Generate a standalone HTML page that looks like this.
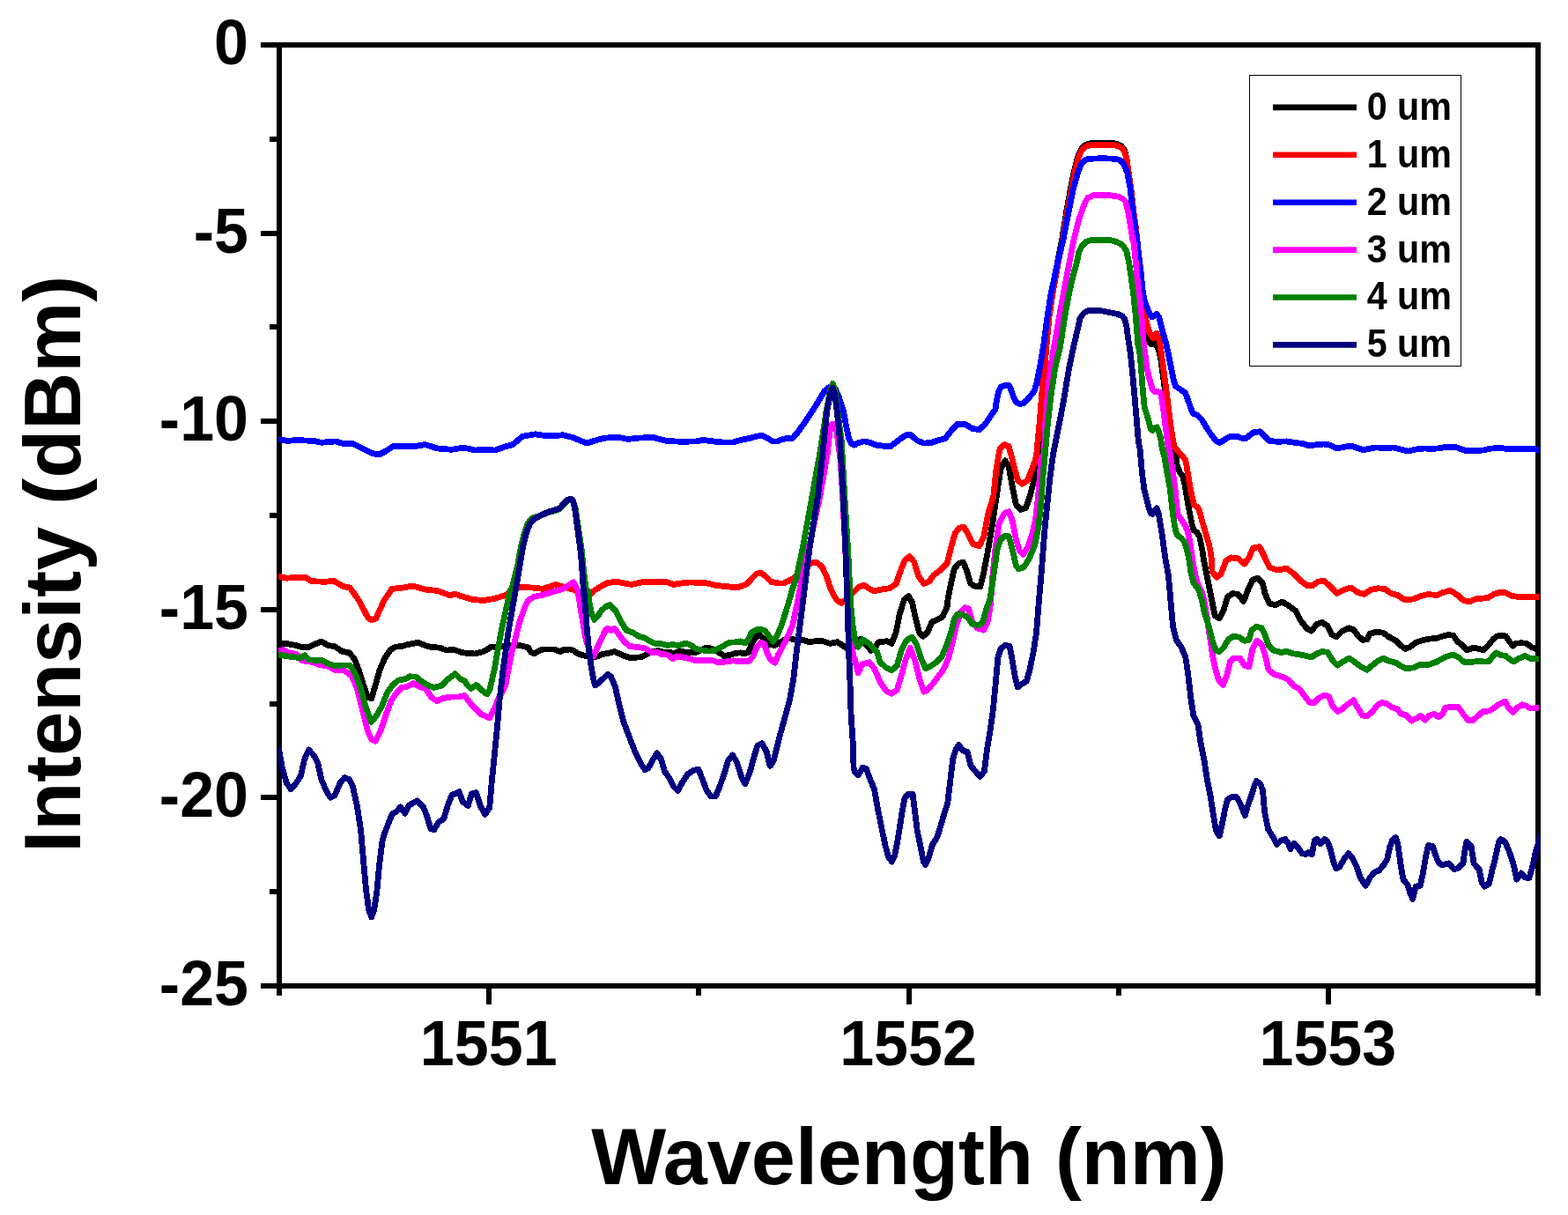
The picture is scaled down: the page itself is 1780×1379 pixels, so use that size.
<!DOCTYPE html>
<html lang="en">
<head>
<meta charset="utf-8">
<title>Intensity vs Wavelength</title>
<style>
html,body{margin:0;padding:0;background:#fff;}
body{width:1780px;height:1379px;overflow:hidden;}
svg{display:block;}
text{font-family:"Liberation Sans",Arial,Helvetica,sans-serif;font-weight:bold;fill:#000;}
.tick{font-size:70px;}
.axl{font-size:90px;}
.leg{font-size:43px;}
.c{fill:none;stroke-width:6.8;stroke-linejoin:round;stroke-linecap:butt;}
.ax{stroke:#000;stroke-width:6;fill:none;}
</style>
</head>
<body>
<svg width="1780" height="1379" viewBox="0 0 1780 1379">
<rect x="0" y="0" width="1780" height="1379" fill="#fff"/>
<defs><clipPath id="plot"><rect x="316.2" y="51.0" width="1430.8999999999999" height="1068.0"/></clipPath></defs>

<rect class="ax" shape-rendering="crispEdges" x="317.0" y="51.0" width="1429.0" height="1068.0"/>
<g stroke="#000" stroke-width="6" shape-rendering="crispEdges">
<line x1="296" y1="51.0" x2="317.0" y2="51.0"/>
<line x1="306" y1="157.8" x2="317.0" y2="157.8"/>
<line x1="296" y1="264.6" x2="317.0" y2="264.6"/>
<line x1="306" y1="371.4" x2="317.0" y2="371.4"/>
<line x1="296" y1="478.2" x2="317.0" y2="478.2"/>
<line x1="306" y1="585.0" x2="317.0" y2="585.0"/>
<line x1="296" y1="691.8" x2="317.0" y2="691.8"/>
<line x1="306" y1="798.6" x2="317.0" y2="798.6"/>
<line x1="296" y1="905.4" x2="317.0" y2="905.4"/>
<line x1="306" y1="1012.2" x2="317.0" y2="1012.2"/>
<line x1="296" y1="1119.0" x2="317.0" y2="1119.0"/>
<line x1="317.0" y1="1119.0" x2="317.0" y2="1129.8"/>
<line x1="555.2" y1="1119.0" x2="555.2" y2="1140.2"/>
<line x1="793.3" y1="1119.0" x2="793.3" y2="1129.8"/>
<line x1="1031.5" y1="1119.0" x2="1031.5" y2="1140.2"/>
<line x1="1269.7" y1="1119.0" x2="1269.7" y2="1129.8"/>
<line x1="1507.8" y1="1119.0" x2="1507.8" y2="1140.2"/>
<line x1="1746.0" y1="1119.0" x2="1746.0" y2="1129.8"/>
</g>
<text class="tick" transform="translate(282,73.0) scale(1,1.025)" text-anchor="end">0</text>
<text class="tick" transform="translate(282,286.6) scale(1,1.025)" text-anchor="end">-5</text>
<text class="tick" transform="translate(282,500.2) scale(1,1.025)" text-anchor="end">-10</text>
<text class="tick" transform="translate(282,713.8) scale(1,1.025)" text-anchor="end">-15</text>
<text class="tick" transform="translate(282,927.4) scale(1,1.025)" text-anchor="end">-20</text>
<text class="tick" transform="translate(282,1141.0) scale(1,1.025)" text-anchor="end">-25</text>
<text class="tick" transform="translate(554.7,1209.4) scale(1,1.025)" text-anchor="middle">1551</text>
<text class="tick" transform="translate(1031.0,1209.4) scale(1,1.025)" text-anchor="middle">1552</text>
<text class="tick" transform="translate(1507.3,1209.4) scale(1,1.025)" text-anchor="middle">1553</text>
<text class="axl" x="1032" y="1343.6" text-anchor="middle">Wavelength (nm)</text>
<text class="axl" transform="translate(91,640.3) rotate(-90)" text-anchor="middle">Intensity (dBm)</text>
<g clip-path="url(#plot)" shape-rendering="crispEdges">
<polyline class="c" stroke="#000000" points="314.1,730.0 316.1,730.0 326.2,730.6 334.4,732.2 342.5,734.3 350.6,734.3 358.7,730.6 364.8,728.2 372.9,732.6 380.1,733.7 388.2,739.3 396.3,740.8 402.4,747.9 407.5,761.1 412.5,777.3 417.6,791.5 421.7,792.9 425.7,779.3 430.8,761.1 436.9,746.9 443.0,737.7 449.1,734.1 456.2,733.7 462.3,731.6 468.4,730.6 474.5,729.0 481.6,732.2 488.7,734.3 498.8,735.1 507.0,738.1 515.1,737.3 523.2,740.2 530.0,741.5 539.0,742.0 548.0,739.7 553.4,737.0 557.9,733.9 561.5,734.3 570.5,733.4 580.4,732.1 588.5,732.1 593.0,733.4 599.3,734.8 602.8,740.2 606.4,742.0 610.9,739.3 616.3,737.0 628.9,737.0 636.1,739.7 639.7,737.5 646.9,737.0 651.4,738.4 655.9,742.0 660.4,743.3 664.9,744.6 672.1,745.5 678.4,745.1 682.9,742.8 690.0,741.5 697.6,739.5 706.7,743.6 714.8,746.6 727.2,745.8 733.5,743.1 738.0,740.9 743.4,739.1 747.9,738.7 752.4,740.0 760.4,740.4 764.9,741.8 770.3,739.6 778.4,740.0 787.4,740.9 791.9,739.6 796.4,737.3 800.9,735.5 805.4,735.5 809.9,736.9 814.4,739.6 818.9,742.2 821.6,744.5 827.9,743.6 835.1,741.3 840.4,740.9 845.8,741.8 849.4,740.4 853.0,731.5 857.5,723.4 862.0,720.7 865.6,723.4 869.2,727.9 872.8,731.5 879.3,732.4 885.4,729.3 891.5,725.3 897.6,724.9 903.7,726.3 911.8,726.3 917.9,728.7 926.0,727.7 934.1,727.7 942.2,730.4 950.4,728.7 956.4,732.4 962.5,736.4 968.6,735.4 976.8,725.3 984.9,733.4 988.9,738.5 993.0,735.4 997.1,728.9 1007.1,727.7 1012.2,730.4 1017.3,717.2 1021.3,696.9 1026.4,680.6 1031.5,676.5 1035.5,683.7 1039.6,702.9 1043.7,718.2 1047.7,722.2 1052.8,718.2 1057.9,706.0 1064.0,703.4 1070.1,699.9 1075.1,688.7 1076.1,680.0 1079.2,664.0 1083.2,645.7 1088.3,639.6 1093.4,638.0 1097.5,647.7 1101.5,661.9 1105.6,665.0 1112.7,666.0 1116.8,649.7 1121.8,623.4 1126.9,592.9 1132.0,558.4 1136.0,532.0 1141.1,522.8 1145.2,529.9 1149.2,552.3 1153.3,572.6 1158.4,578.3 1164.5,576.6 1169.5,562.4 1174.6,542.1 1178.4,514.0 1180.8,479.9 1183.3,444.0 1183.8,435.0 1185.9,417.0 1187.3,394.0 1190.3,359.9 1194.3,333.0 1200.6,297.0 1205.1,274.0 1205.3,274.0 1210.7,239.9 1215.6,213.0 1219.2,195.0 1221.4,186.0 1224.1,177.0 1226.7,170.7 1229.4,166.6 1233.0,163.9 1239.3,162.6 1250.9,162.2 1264.4,162.6 1269.8,163.9 1273.4,166.0 1276.3,170.2 1278.3,177.0 1279.9,186.0 1281.0,195.0 1283.7,213.0 1286.7,239.9 1289.4,257.9 1291.0,274.0 1291.4,279.0 1293.8,297.0 1295.9,315.0 1296.8,333.0 1297.5,349.1 1298.6,359.9 1300.0,368.9 1301.5,377.0 1303.1,383.3 1304.9,388.7 1307.2,391.0 1309.9,389.2 1311.7,390.5 1312.3,390.9 1314.1,394.0 1316.3,400.8 1317.8,408.0 1320.2,426.0 1321.5,435.0 1322.6,444.0 1324.9,462.0 1327.1,479.9 1329.4,493.4 1332.1,506.9 1334.0,514.0 1334.5,510.0 1336.1,528.0 1339.3,536.1 1342.8,540.6 1345.1,550.5 1347.3,564.0 1349.6,577.5 1351.4,586.4 1353.2,595.4 1355.0,601.7 1359.0,604.4 1361.7,608.9 1363.5,617.9 1365.3,626.9 1366.2,634.0 1368.0,643.0 1372.1,663.4 1376.1,683.7 1379.2,698.9 1384.3,701.9 1389.3,691.8 1393.4,677.6 1399.5,673.5 1405.6,674.5 1411.7,682.6 1416.8,669.4 1421.8,658.3 1427.9,656.2 1433.0,661.3 1436.0,673.5 1441.1,685.1 1448.2,686.7 1455.3,683.0 1462.4,687.1 1470.6,693.2 1476.6,704.4 1483.8,713.5 1488.8,716.1 1494.9,708.4 1501.0,706.4 1507.1,710.5 1512.2,720.6 1517.3,722.6 1523.4,716.5 1531.5,712.9 1536.5,714.5 1541.6,721.6 1546.7,726.3 1551.8,725.7 1554.8,719.6 1561.9,717.2 1570.1,718.2 1576.1,722.6 1584.3,726.7 1590.4,732.8 1595.4,736.4 1600.5,734.4 1606.6,729.7 1614.7,726.7 1622.8,725.1 1631.0,724.3 1639.1,721.6 1644.1,720.4 1649.9,721.4 1654.3,727.9 1660.1,732.2 1665.1,738.0 1673.1,735.1 1678.9,736.6 1684.0,737.6 1689.1,733.0 1694.9,725.7 1699.2,722.1 1703.6,721.1 1709.4,722.1 1713.7,728.6 1717.4,733.0 1721.0,730.1 1726.8,729.8 1732.6,730.1 1738.4,734.4 1744.2,736.6 1748.5,737.0"/>
<polyline class="c" stroke="#ff0000" points="314.1,653.6 316.1,654.2 326.2,656.2 336.4,655.2 346.5,655.2 353.7,659.7 368.9,660.3 379.0,659.3 389.2,665.4 397.3,667.0 407.5,681.6 417.6,700.9 421.7,703.6 426.8,701.9 435.9,681.6 445.0,668.4 458.2,667.0 468.4,665.0 482.6,669.0 496.8,670.5 511.0,675.9 516.1,673.9 523.2,676.5 535.4,680.2 548.6,681.6 561.8,679.2 574.0,675.5 582.1,669.4 590.2,666.4 604.4,667.0 616.6,668.4 630.8,663.4 643.0,667.0 651.1,669.4 659.2,672.5 668.1,676.5 674.2,670.5 682.3,665.4 690.5,661.3 700.6,660.3 708.7,661.9 716.9,663.4 729.0,660.7 741.2,660.9 749.3,660.3 757.5,660.9 764.6,663.4 773.7,661.9 783.9,660.9 792.0,661.3 802.1,661.9 812.3,664.4 822.4,665.4 832.6,666.4 838.7,666.4 846.8,663.4 852.9,657.3 859.0,651.2 864.1,650.2 869.1,654.2 875.2,660.3 883.4,661.9 889.4,661.9 895.5,659.3 901.6,656.2 909.7,648.1 915.8,642.0 921.9,639.0 927.0,638.4 933.1,643.0 938.2,654.2 942.2,666.4 946.3,675.5 950.4,681.6 955.4,684.3 959.5,681.6 968.6,672.5 974.7,666.4 980.8,664.0 986.9,668.4 992.0,670.9 1001.1,669.0 1010.2,667.6 1017.3,662.9 1022.3,647.7 1027.4,635.5 1032.5,631.5 1037.6,637.6 1042.6,653.8 1048.7,662.5 1054.8,659.9 1059.9,652.8 1067.0,647.7 1075.1,639.6 1080.2,619.3 1084.3,605.1 1089.3,599.0 1094.4,598.6 1099.5,607.1 1104.6,617.3 1111.7,619.7 1116.8,609.1 1121.8,582.7 1127.9,562.4 1131.0,532.0 1135.0,509.6 1140.1,504.6 1145.2,506.6 1150.3,525.9 1155.3,545.2 1160.4,549.2 1166.5,545.2 1171.6,532.0 1175.6,521.8 1176.8,514.0 1180.1,479.9 1182.3,453.0 1183.8,435.0 1186.0,417.0 1187.8,394.0 1191.0,359.9 1195.0,333.0 1201.5,297.0 1206.2,274.0 1211.6,239.9 1216.5,213.0 1220.1,195.0 1222.3,186.0 1225.0,177.0 1227.6,171.6 1230.3,168.0 1233.9,165.7 1239.3,164.7 1250.9,164.4 1264.4,164.7 1269.8,166.0 1273.4,168.0 1276.1,171.6 1278.2,177.0 1279.8,186.0 1280.9,195.0 1283.6,213.0 1286.7,239.9 1289.4,257.9 1291.0,274.0 1291.4,279.0 1293.8,297.0 1295.9,315.0 1297.0,333.0 1298.0,350.9 1300.2,359.9 1302.5,368.9 1304.9,377.0 1307.2,382.4 1309.0,384.0 1310.8,380.4 1313.0,378.4 1314.8,382.4 1316.6,388.7 1316.8,390.0 1319.9,412.5 1322.9,435.0 1325.8,457.5 1328.5,479.9 1331.2,497.9 1333.0,506.9 1340.2,515.4 1345.5,521.7 1346.9,528.0 1349.1,541.5 1351.4,555.0 1353.6,565.8 1355.4,573.0 1359.9,575.7 1362.2,582.0 1364.4,590.9 1367.1,599.9 1369.8,608.9 1372.5,617.9 1374.3,626.9 1375.2,634.0 1376.1,649.1 1381.2,655.2 1386.3,651.2 1391.4,637.0 1397.5,632.9 1405.6,633.9 1412.7,640.0 1417.8,632.9 1422.8,621.7 1429.9,620.7 1435.0,630.9 1441.1,644.1 1450.3,647.1 1460.4,645.1 1468.5,651.2 1476.6,659.3 1483.8,664.4 1489.8,665.0 1495.9,660.3 1503.0,659.3 1510.2,665.4 1517.3,673.5 1525.4,669.4 1533.5,667.0 1541.6,672.5 1548.7,674.5 1555.8,669.4 1564.0,667.8 1572.1,668.4 1579.2,673.5 1586.3,675.5 1594.4,680.6 1604.6,680.0 1612.7,676.5 1620.8,674.5 1631.0,675.5 1638.1,672.5 1645.6,670.3 1649.9,672.1 1655.7,676.4 1661.5,681.5 1668.8,682.9 1674.6,680.0 1680.4,679.3 1689.1,678.6 1696.3,674.2 1703.6,672.1 1709.4,672.8 1716.6,676.4 1723.9,677.6 1731.1,677.1 1738.4,677.4 1748.5,677.1"/>
<polyline class="c" stroke="#0000ff" points="314.1,498.5 316.1,498.5 326.2,500.5 336.4,499.5 356.7,500.5 364.8,502.3 381.1,500.9 389.2,503.4 401.4,503.8 411.5,509.0 421.7,514.1 429.8,516.1 437.9,512.1 446.0,506.6 460.3,506.6 470.4,506.6 482.6,504.6 496.8,509.0 513.0,510.3 526.2,508.0 539.4,511.1 549.6,510.1 561.8,511.1 571.9,507.4 582.1,504.6 593.2,495.2 607.5,492.8 618.6,494.4 626.8,494.8 638.9,493.8 651.1,496.9 666.1,503.1 674.2,500.5 684.4,497.5 694.5,496.4 702.6,496.4 712.8,498.5 725.0,497.1 741.2,496.4 749.3,498.5 757.5,500.5 769.6,501.1 781.8,501.1 789.9,500.9 798.1,499.5 806.2,500.5 814.3,501.5 822.4,502.1 832.6,501.9 840.7,499.5 850.9,497.5 858.0,495.4 865.1,494.4 871.2,497.1 877.3,501.1 882.3,500.9 888.4,498.5 893.5,497.5 899.6,497.5 905.7,490.4 913.8,479.2 921.9,467.0 930.1,453.8 936.1,443.7 941.2,439.6 944.3,438.6 948.3,441.6 952.4,450.8 957.5,467.0 960.5,483.2 963.6,497.5 966.6,503.6 969.6,505.2 974.7,502.5 980.8,500.9 986.9,502.1 995.0,505.2 1010.2,507.0 1020.3,499.5 1028.4,493.8 1033.5,493.4 1040.6,499.5 1048.7,503.1 1056.9,502.5 1065.0,499.9 1073.1,497.5 1081.2,487.3 1087.3,481.2 1095.4,481.2 1103.6,486.3 1111.7,487.7 1117.8,482.2 1125.9,470.1 1130.0,464.6 1130.9,457.5 1133.6,444.0 1136.3,439.0 1141.7,437.2 1145.7,437.7 1148.0,443.1 1150.7,451.2 1153.4,456.6 1157.0,458.4 1161.5,457.9 1166.0,453.9 1170.5,448.5 1174.1,444.0 1176.8,435.0 1180.4,417.0 1184.9,390.0 1188.9,359.9 1193.1,333.0 1200.8,297.0 1206.6,274.0 1213.2,239.9 1218.7,213.0 1224.0,195.0 1227.6,186.0 1231.2,181.9 1235.7,180.3 1250.9,179.7 1267.1,180.3 1271.6,181.9 1275.2,186.0 1279.5,195.0 1282.9,213.0 1286.2,239.9 1290.7,274.0 1291.1,274.0 1293.5,297.0 1295.7,315.0 1297.5,333.0 1299.5,342.0 1302.2,349.1 1304.9,355.4 1307.6,359.9 1310.3,358.6 1313.0,356.3 1315.7,359.9 1317.9,368.9 1321.5,382.4 1323.7,390.0 1326.7,403.5 1329.4,417.0 1332.1,430.5 1334.8,438.6 1340.2,442.2 1345.5,445.8 1348.2,453.0 1351.4,462.0 1354.1,469.1 1359.9,471.8 1364.4,476.3 1368.0,482.6 1372.5,489.8 1377.0,496.1 1380.6,500.6 1384.2,502.4 1388.7,500.2 1393.2,497.0 1397.7,495.2 1404.9,495.4 1410.3,497.5 1413.9,497.9 1418.4,494.3 1422.9,490.7 1430.0,489.8 1435.0,494.8 1441.1,500.5 1450.3,501.3 1460.4,500.9 1470.6,502.5 1478.7,503.4 1486.8,506.0 1494.9,504.6 1503.0,504.0 1509.1,505.0 1517.3,509.0 1525.4,507.4 1533.5,506.0 1539.6,508.0 1547.7,510.7 1555.8,509.0 1561.9,508.0 1572.1,508.4 1582.2,508.0 1590.4,510.1 1598.5,512.1 1606.6,510.1 1616.8,509.0 1626.9,509.4 1635.0,508.6 1642.0,507.2 1652.1,507.2 1656.6,509.1 1663.4,511.3 1672.4,511.7 1683.6,511.0 1690.3,509.4 1701.6,508.3 1708.3,509.1 1717.3,509.9 1725.2,509.1 1737.5,509.1 1744.3,510.2 1748.8,510.8"/>
<polyline class="c" stroke="#ff00ff" points="314.1,738.7 316.1,738.3 322.2,737.7 328.3,740.8 336.4,742.4 343.5,749.9 350.6,750.9 356.7,751.9 363.8,755.0 370.9,755.4 381.1,760.7 391.2,761.1 399.3,767.2 405.4,781.4 411.5,805.7 417.6,830.1 421.7,839.2 426.1,841.3 431.8,830.1 437.9,811.8 444.0,795.6 450.1,786.4 456.2,780.4 462.3,779.3 469.4,775.7 476.5,779.3 483.6,782.0 489.7,791.5 495.8,795.6 502.9,792.5 513.0,790.9 521.2,790.9 527.3,789.5 533.4,797.6 540.5,804.7 546.5,810.8 555.7,814.9 561.8,803.7 565.3,794.0 573.9,777.9 577.0,759.9 580.6,742.0 585.3,724.0 589.8,706.0 596.1,688.0 600.2,680.8 606.4,677.2 615.4,675.4 624.4,672.7 633.4,670.0 638.9,668.4 651.1,660.9 653.4,665.1 655.9,670.0 660.1,697.0 664.6,724.0 669.0,738.4 673.9,744.6 677.9,735.2 681.1,728.5 687.4,715.0 690.0,713.2 693.5,715.5 697.6,713.5 702.6,720.2 708.7,728.3 714.8,733.4 731.7,735.5 739.8,740.4 745.2,740.0 749.7,742.2 757.8,743.1 764.0,747.6 768.5,744.9 773.9,745.8 782.9,747.6 790.1,749.9 800.9,749.4 809.9,749.9 815.3,751.7 821.6,751.2 832.4,749.9 840.4,750.8 850.3,750.3 854.8,744.9 859.3,734.2 863.8,729.2 867.4,730.6 871.0,741.3 874.6,748.5 880.0,752.1 883.0,744.0 891.6,728.0 899.7,710.0 905.3,683.0 910.5,656.0 918.4,621.0 925.0,590.0 930.9,563.0 939.5,513.0 941.5,494.0 943.0,483.0 945.4,481.0 948.0,483.0 950.0,490.0 951.6,503.0 954.2,522.5 956.6,563.0 959.6,622.0 962.3,683.0 965.0,715.0 966.6,732.0 968.7,744.0 970.7,749.6 974.3,763.9 978.8,753.7 986.9,751.7 993.0,759.8 999.1,774.0 1006.1,784.2 1012.2,787.2 1018.3,783.1 1023.4,765.9 1028.4,747.6 1033.5,735.4 1038.6,749.6 1043.7,769.9 1048.7,785.2 1052.8,783.1 1058.9,776.0 1065.0,767.9 1071.1,759.8 1077.2,745.6 1081.2,729.3 1085.3,711.1 1090.4,694.8 1095.4,689.7 1099.5,690.8 1103.6,705.0 1109.6,713.1 1116.8,715.1 1120.8,707.0 1123.9,690.8 1126.9,653.8 1129.9,623.4 1134.0,594.9 1140.1,582.7 1145.2,580.7 1149.2,590.9 1153.3,611.2 1157.4,625.4 1161.4,629.4 1166.5,621.3 1171.6,607.1 1175.6,588.8 1178.7,562.4 1181.7,521.8 1185.5,514.0 1186.8,479.9 1188.9,453.0 1190.4,435.0 1192.7,417.0 1196.5,394.0 1202.4,359.9 1207.3,333.0 1214.1,297.0 1218.6,274.0 1224.9,248.9 1231.2,230.9 1234.8,224.6 1241.1,221.8 1250.9,221.5 1259.9,221.8 1268.9,223.0 1274.3,225.1 1277.9,229.1 1280.6,239.9 1282.2,248.9 1284.2,261.5 1286.2,274.0 1286.6,270.0 1289.2,297.0 1291.0,315.0 1293.2,333.0 1295.9,359.9 1298.3,390.0 1301.9,417.0 1304.2,427.8 1306.4,435.0 1308.2,442.2 1310.5,444.4 1315.0,444.6 1317.7,445.8 1319.0,453.0 1320.8,466.4 1322.6,479.9 1324.9,497.9 1327.1,514.0 1327.6,510.0 1331.6,537.0 1334.0,555.0 1335.7,573.0 1337.0,583.7 1341.1,590.0 1345.5,596.3 1348.2,603.5 1350.5,613.4 1352.3,625.1 1353.6,634.0 1356.9,653.2 1359.9,663.4 1365.0,673.5 1368.0,687.7 1370.1,700.3 1373.1,720.6 1376.1,740.9 1379.2,757.2 1383.2,771.4 1388.3,777.5 1392.4,767.3 1396.4,751.1 1400.5,747.0 1407.6,747.0 1412.7,755.1 1417.8,756.8 1421.8,736.9 1426.9,727.3 1432.0,730.8 1436.0,742.9 1440.1,760.2 1446.2,765.3 1456.3,768.3 1462.4,771.4 1468.5,778.5 1474.6,781.5 1480.7,789.6 1486.8,797.4 1491.9,797.8 1498.0,791.7 1503.0,789.2 1508.1,790.1 1513.2,801.8 1518.3,807.5 1523.4,804.9 1529.4,799.8 1536.5,794.7 1541.6,803.9 1546.7,812.0 1551.8,813.0 1557.9,807.9 1564.0,799.8 1569.0,797.4 1574.1,798.8 1580.2,802.8 1586.3,804.9 1590.4,809.9 1596.4,812.0 1602.5,818.1 1606.6,816.0 1612.7,812.4 1617.8,817.1 1622.8,812.0 1627.9,810.4 1633.0,814.0 1638.1,809.9 1640.5,803.3 1647.0,802.2 1655.7,802.6 1661.5,811.3 1667.3,817.8 1671.7,817.8 1677.5,812.7 1683.3,807.7 1690.5,806.9 1696.3,803.3 1702.1,799.0 1708.7,796.1 1712.3,802.6 1717.4,808.4 1722.4,803.3 1728.2,799.7 1732.6,801.1 1736.9,804.0 1741.3,804.0 1748.5,802.6"/>
<polyline class="c" stroke="#008000" points="314.1,742.8 316.1,743.2 326.2,744.8 334.4,745.8 340.5,746.9 346.1,743.8 350.6,748.9 358.7,749.3 364.8,748.9 370.9,752.5 379.0,755.4 389.2,755.0 397.3,755.0 403.4,765.1 409.5,781.4 415.6,803.7 421.7,819.5 427.8,811.8 433.9,800.7 439.9,785.4 446.0,777.3 452.1,772.2 460.3,770.6 465.3,767.8 472.4,768.2 478.5,773.2 485.6,777.7 492.7,780.4 500.9,778.3 508.0,771.2 516.7,764.7 522.2,770.2 528.3,773.7 530.0,777.0 534.5,781.5 540.8,777.5 548.0,784.2 552.9,787.8 556.1,782.4 561.2,759.9 564.4,742.0 569.3,715.0 579.2,670.0 579.4,674.0 588.0,639.9 591.1,622.0 595.6,604.0 598.7,595.0 602.2,589.6 605.8,587.5 613.0,585.5 622.0,581.9 630.9,579.4 635.4,577.6 639.9,572.7 644.4,568.4 647.1,567.3 649.8,567.5 651.6,571.6 653.2,577.0 655.9,595.0 660.0,622.0 661.8,639.9 663.8,657.9 665.8,674.0 667.0,670.0 669.0,683.5 671.2,695.2 674.8,703.3 678.4,699.7 682.9,692.5 690.0,687.1 692.5,686.7 698.6,692.8 704.7,705.0 710.8,715.1 718.9,718.2 725.4,722.5 731.7,723.8 738.0,727.9 742.5,730.1 750.6,730.6 757.8,732.4 764.0,731.5 770.3,732.8 778.4,730.1 783.8,731.9 789.2,736.0 796.4,737.8 803.6,739.1 809.9,738.7 817.1,735.1 821.6,732.8 827.9,729.2 836.0,728.8 840.4,727.9 845.8,729.7 849.4,726.1 853.0,718.0 858.4,714.8 863.8,714.4 868.3,715.7 872.8,721.6 877.6,728.0 882.0,722.0 887.1,710.0 895.6,683.0 898.5,672.0 904.0,656.0 911.5,621.0 922.0,563.0 931.0,513.0 938.0,467.2 942.5,443.0 945.3,435.4 948.0,443.0 951.0,467.2 955.2,500.0 958.8,563.0 962.5,622.0 965.5,683.0 968.0,710.0 971.0,728.0 974.3,734.2 979.3,725.7 986.9,730.6 995.9,740.5 999.1,751.7 1006.1,757.8 1012.2,760.8 1018.3,755.7 1023.4,737.5 1029.4,726.3 1035.5,723.2 1040.6,731.4 1045.7,747.6 1050.8,758.8 1056.9,755.7 1062.9,751.7 1069.0,745.6 1074.1,733.4 1079.2,719.2 1083.2,702.9 1087.3,696.9 1093.4,697.9 1098.5,700.9 1103.6,708.0 1110.7,710.1 1115.7,706.0 1119.8,690.8 1123.9,680.0 1127.9,653.8 1132.0,623.4 1136.0,612.2 1140.1,608.7 1145.2,608.7 1149.2,623.4 1153.3,641.6 1156.3,645.7 1162.4,643.7 1168.5,633.5 1174.6,619.3 1178.7,599.0 1181.7,572.6 1183.8,542.1 1186.5,514.0 1189.5,479.9 1192.5,453.0 1195.2,435.0 1197.9,417.0 1203.5,394.0 1208.7,359.9 1213.6,333.0 1217.7,315.0 1222.6,297.0 1224.9,285.3 1228.5,279.0 1233.0,274.5 1238.4,272.5 1250.9,272.3 1259.9,272.5 1268.9,274.9 1275.2,279.0 1278.8,285.3 1281.5,297.0 1284.2,315.0 1286.6,333.0 1289.4,359.9 1292.1,394.0 1292.7,390.0 1295.4,417.0 1297.4,444.0 1299.2,462.0 1301.9,470.9 1304.6,479.9 1306.4,487.1 1308.2,488.5 1310.9,485.8 1313.2,484.9 1315.4,489.8 1317.7,497.9 1319.0,506.9 1320.4,514.0 1320.5,510.0 1325.0,537.0 1328.3,555.0 1329.8,568.5 1331.2,582.0 1333.0,593.6 1334.8,603.5 1337.0,608.0 1341.1,610.7 1344.6,615.2 1346.9,622.4 1349.6,634.0 1351.8,649.1 1354.8,661.3 1360.9,669.4 1365.0,683.7 1367.0,694.2 1372.1,710.5 1376.1,726.7 1380.2,737.9 1384.3,739.9 1389.3,734.8 1394.4,725.7 1399.5,722.6 1406.6,723.0 1412.7,727.3 1417.8,726.3 1420.8,715.5 1425.9,711.5 1432.0,712.5 1436.0,720.6 1440.1,732.8 1445.2,737.9 1454.3,740.5 1460.4,739.3 1468.5,741.9 1478.7,743.4 1488.8,746.0 1494.9,741.9 1501.0,739.5 1507.1,740.3 1513.2,750.1 1518.3,755.1 1524.4,751.1 1531.5,747.0 1537.6,751.1 1545.7,757.2 1551.8,760.2 1557.9,755.1 1564.0,750.1 1570.1,747.0 1576.1,750.1 1584.3,752.1 1590.4,756.1 1596.4,758.8 1604.6,757.8 1612.7,754.1 1622.8,754.1 1631.0,751.1 1639.1,746.6 1644.1,744.6 1649.9,743.1 1655.7,746.0 1661.5,751.1 1667.3,751.5 1673.1,751.1 1678.9,750.4 1686.2,751.1 1690.5,750.4 1694.9,744.6 1698.5,740.9 1703.6,743.4 1709.4,744.6 1713.7,748.2 1718.1,751.1 1723.9,747.5 1731.1,744.3 1736.9,747.2 1748.5,748.2"/>
<polyline class="c" stroke="#000080" points="315.7,848.4 316.9,852.4 320.2,870.3 325.2,888.6 330.3,895.7 336.4,888.6 341.5,880.5 345.5,862.2 350.6,851.0 356.7,858.1 360.8,866.2 364.8,884.5 370.9,898.7 375.0,905.2 380.1,902.8 386.1,888.6 391.2,882.5 396.3,884.5 400.4,892.6 405.4,915.0 409.5,941.4 412.5,975.9 415.6,1010.4 418.6,1032.7 421.7,1040.9 424.7,1032.7 427.8,1012.4 430.8,979.9 433.9,955.6 435.9,947.5 439.9,937.3 445.0,924.1 450.1,921.1 454.6,916.0 459.8,923.1 464.3,914.0 473.5,908.9 480.6,916.0 484.6,926.1 488.7,940.4 492.7,941.8 497.8,933.2 503.9,929.2 508.0,915.0 513.0,902.4 521.2,898.7 525.2,909.9 531.3,914.6 535.4,900.8 540.5,899.7 545.5,915.0 550.6,924.7 555.7,917.0 558.7,882.5 561.8,852.4 564.8,822.0 567.1,794.0 571.1,759.9 577.4,715.0 584.6,674.0 590.5,639.9 593.4,622.0 597.7,604.0 601.3,595.0 605.8,589.6 613.0,585.3 622.0,581.2 630.9,578.5 635.4,576.7 639.9,571.6 644.4,567.3 647.1,566.4 649.8,567.1 651.2,570.7 652.5,577.0 655.0,595.0 658.6,622.0 660.4,639.9 662.6,674.0 662.9,670.0 666.4,715.0 669.0,742.0 671.7,759.9 673.9,771.6 675.7,777.9 678.4,776.1 681.1,773.4 690.0,765.3 693.5,767.9 698.6,780.1 702.6,798.4 707.7,818.7 713.8,834.9 720.9,853.2 728.0,867.4 732.1,873.5 736.1,871.5 741.2,862.3 745.7,854.8 750.4,861.3 754.4,875.5 759.5,882.6 764.6,892.8 769.6,897.5 774.7,887.7 780.8,878.6 786.9,874.5 793.0,873.1 797.1,883.7 802.1,896.9 807.2,904.0 812.3,904.0 817.4,891.8 822.4,877.6 826.5,863.4 831.6,856.9 836.6,865.4 841.7,881.6 845.8,889.7 850.9,877.6 855.9,859.3 860.0,846.1 865.1,843.7 870.2,853.2 874.2,869.4 878.3,863.4 882.3,847.1 886.4,830.9 891.5,812.6 896.5,794.3 900.6,772.0 903.7,744.0 911.5,683.0 919.1,622.0 928.5,563.0 934.1,513.0 938.7,467.2 942.5,447.0 945.1,440.0 947.6,447.0 950.3,467.2 953.5,500.0 957.1,563.0 959.8,622.0 961.9,683.0 963.7,744.0 964.6,761.8 966.1,810.5 968.1,840.9 969.1,871.4 970.2,876.4 974.2,879.9 979.3,871.4 983.4,872.4 987.4,883.6 992.5,895.7 996.5,918.1 1000.6,938.4 1004.7,958.7 1008.7,972.9 1012.4,978.0 1015.8,970.9 1019.9,948.5 1024.0,922.1 1027.0,905.9 1031.1,901.4 1036.1,901.4 1038.2,918.1 1041.2,942.4 1045.3,962.7 1048.3,978.0 1050.8,981.4 1054.4,972.9 1058.5,958.7 1063.6,950.6 1067.6,938.4 1071.7,924.2 1075.7,912.0 1078.8,885.6 1081.8,861.2 1084.9,851.1 1088.3,845.4 1093.0,852.1 1098.1,853.1 1102.1,869.3 1108.2,876.4 1112.3,881.5 1117.4,875.4 1120.4,851.1 1124.5,826.7 1127.5,804.4 1133.0,745.6 1136.0,736.4 1141.1,732.4 1146.2,733.4 1149.2,749.6 1152.3,767.9 1155.3,780.1 1160.4,776.0 1165.5,773.0 1169.5,757.8 1173.6,737.5 1176.6,717.2 1178.7,690.8 1182.7,643.7 1185.8,603.0 1188.8,572.6 1191.9,542.1 1195.8,514.0 1202.7,479.9 1207.8,453.0 1210.7,435.0 1213.8,417.0 1218.6,394.0 1221.3,382.4 1224.4,368.9 1225.8,361.7 1228.5,357.7 1232.1,354.1 1235.7,352.5 1249.1,352.5 1259.9,354.7 1268.9,356.5 1274.3,359.0 1277.0,362.6 1278.6,368.9 1280.4,382.4 1282.2,394.0 1283.2,400.0 1286.3,430.5 1289.3,465.0 1292.4,501.5 1294.1,510.0 1296.5,537.0 1298.8,555.0 1301.5,565.8 1304.2,576.6 1306.4,582.8 1308.7,583.3 1310.9,579.3 1313.2,576.7 1315.0,582.0 1316.6,590.9 1319.5,608.9 1322.9,634.0 1326.4,653.2 1331.5,710.5 1335.5,726.7 1340.6,733.8 1345.7,745.0 1348.7,765.3 1351.8,791.7 1354.8,812.0 1359.9,822.1 1362.9,842.4 1367.0,862.7 1370.1,883.0 1374.1,903.4 1377.2,923.7 1380.2,941.9 1384.3,949.0 1387.3,935.8 1390.4,919.6 1393.4,907.4 1398.5,904.4 1403.6,904.4 1408.6,913.5 1413.3,925.7 1416.8,913.5 1420.8,902.3 1423.9,892.2 1426.3,886.5 1430.5,889.4 1433.5,896.5 1435.5,920.9 1439.6,941.2 1444.7,949.3 1449.7,958.5 1453.8,954.4 1458.9,952.4 1461.9,956.4 1465.0,963.6 1469.0,957.5 1473.1,961.5 1478.2,968.6 1482.2,969.6 1485.3,967.6 1489.3,969.6 1492.4,953.4 1495.4,952.4 1499.1,957.9 1503.6,952.4 1507.6,956.4 1510.7,965.6 1513.7,977.8 1516.8,985.9 1520.8,983.9 1525.9,974.7 1531.0,968.6 1535.0,973.7 1540.1,983.9 1544.2,996.0 1550.3,1005.2 1555.3,996.0 1560.4,989.9 1565.5,987.9 1570.6,981.8 1574.6,975.7 1577.7,961.5 1580.7,953.4 1584.4,950.4 1586.8,957.5 1589.8,979.8 1592.9,998.1 1598.0,1004.2 1601.0,1014.3 1603.7,1020.4 1607.1,1006.2 1612.2,1005.2 1615.2,992.0 1618.3,973.7 1621.3,959.5 1626.4,960.5 1629.4,969.6 1632.5,977.8 1636.5,981.8 1644.7,979.8 1650.8,986.9 1655.8,984.9 1660.9,979.8 1662.9,965.6 1665.0,955.4 1670.1,960.5 1673.1,979.8 1679.2,986.9 1682.2,1002.1 1685.3,1006.2 1690.4,1003.1 1693.4,989.9 1697.5,973.7 1701.5,955.4 1703.6,952.4 1708.6,955.4 1713.7,967.6 1717.8,979.8 1721.8,998.1 1726.9,991.0 1731.0,996.0 1736.0,996.4 1740.1,981.8 1743.1,967.6 1746.2,957.5 1749.2,947.3"/>
</g>
<rect x="1418.5" y="85.5" width="240" height="330" fill="#fff" stroke="#000" stroke-width="1" shape-rendering="crispEdges"/>
<line x1="1445" y1="121.9" x2="1540" y2="121.9" stroke="#000000" stroke-width="6.6"/>
<text class="leg" transform="translate(1551.7,135.8) scale(0.96,1.045)">0 um</text>
<line x1="1445" y1="175.8" x2="1540" y2="175.8" stroke="#ff0000" stroke-width="6.6"/>
<text class="leg" transform="translate(1551.7,189.7) scale(0.96,1.045)">1 um</text>
<line x1="1445" y1="229.7" x2="1540" y2="229.7" stroke="#0000ff" stroke-width="6.6"/>
<text class="leg" transform="translate(1551.7,243.6) scale(0.96,1.045)">2 um</text>
<line x1="1445" y1="283.6" x2="1540" y2="283.6" stroke="#ff00ff" stroke-width="6.6"/>
<text class="leg" transform="translate(1551.7,297.5) scale(0.96,1.045)">3 um</text>
<line x1="1445" y1="337.5" x2="1540" y2="337.5" stroke="#008000" stroke-width="6.6"/>
<text class="leg" transform="translate(1551.7,351.4) scale(0.96,1.045)">4 um</text>
<line x1="1445" y1="391.4" x2="1540" y2="391.4" stroke="#000080" stroke-width="6.6"/>
<text class="leg" transform="translate(1551.7,405.3) scale(0.96,1.045)">5 um</text>
</svg>
</body>
</html>
